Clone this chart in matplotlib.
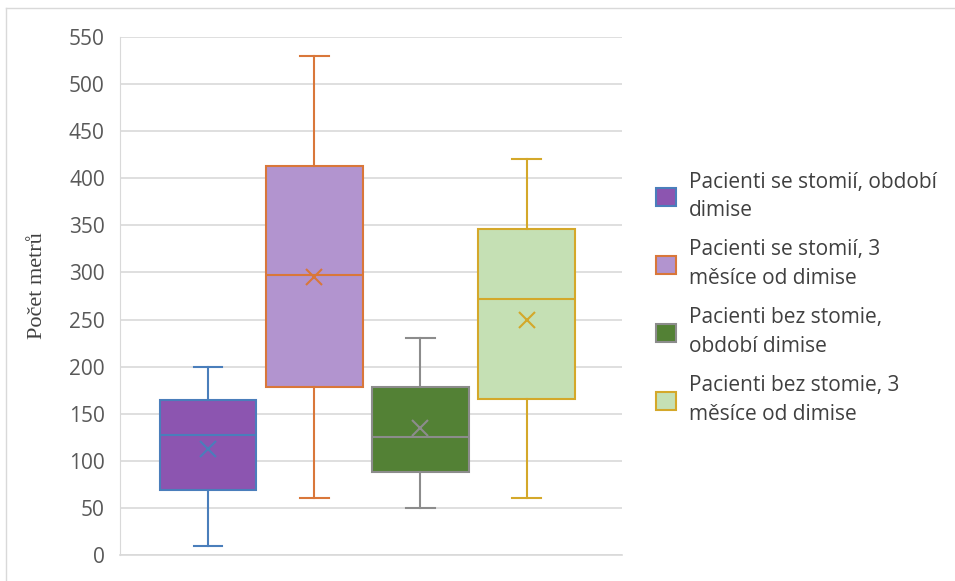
import matplotlib.pyplot as plt
from matplotlib.patches import Patch
from matplotlib.lines import Line2D

labels = ['Pacienti se stomií, období\ndimise',
          'Pacienti se stomií, 3\nměsíce od dimise',
          'Pacienti bez stomie,\nobdobí dimise',
          'Pacienti bez stomie, 3\nměsíce od dimise']
whislo = [10, 60, 50, 60]
q1 = [69, 178, 88, 166]
med = [127, 297, 125, 272]
q3 = [165, 413, 178, 346]
whishi = [200, 530, 230, 420]
means = [113, 295, 135, 250]

fills = ['#8C55B0', '#B294CF', '#538135', '#C5E0B4']
edges = ['#4A7EBB', '#D9773A', '#8C8C8C', '#D4A82A']

fig = plt.figure(figsize=(9.55, 5.81), dpi=100)
ax = fig.add_axes([0.1257, 0.0448, 0.5258, 0.8915])

for i in range(len(labels)):
    st = dict(whislo=whislo[i], q1=q1[i], med=med[i], q3=q3[i],
              whishi=whishi[i], mean=means[i], fliers=[])
    c = edges[i]
    ax.bxp([st], positions=[i], widths=0.91, capwidths=0.27,
           patch_artist=True, showmeans=True, zorder=3,
           boxprops=dict(facecolor=fills[i], edgecolor=c, linewidth=1.5),
           medianprops=dict(color=c, linewidth=1.5),
           whiskerprops=dict(color=c, linewidth=1.5),
           capprops=dict(color=c, linewidth=1.5),
           meanprops=dict(marker='x', markeredgecolor=c, markersize=11,
                          markeredgewidth=1.5))

ax.set_xlim(-0.83, 3.9)
ax.set_ylim(0, 550)
ax.set_yticks(range(0, 551, 50))
ax.set_xticks([])
ax.yaxis.grid(True, color='#D9D9D9', linewidth=1.2)
ax.set_axisbelow(True)
for s in ['top', 'right']:
    ax.spines[s].set_visible(False)
ax.spines['left'].set_color('#D9D9D9')
ax.spines['bottom'].set_color('#D9D9D9')
ax.spines['bottom'].set_linewidth(1.2)
ax.tick_params(axis='y', length=0, pad=11, labelsize=15, labelcolor='#595959')
for t in ax.get_yticklabels():
    t.set_fontfamily('Open Sans')
ax.set_ylabel('Počet metrů', fontfamily='Liberation Serif', fontsize=16,
              color='#404040', labelpad=16, y=0.52)

handles = [Patch(facecolor=fills[i], edgecolor=edges[i], linewidth=1.5)
           for i in range(len(labels))]
leg = fig.legend(handles, labels, loc='center left', bbox_to_anchor=(0.6675, 0.487),
                 frameon=False, prop={'family': 'Open Sans', 'size': 15},
                 labelcolor='#404040', handlelength=0.95, handleheight=0.95,
                 handletextpad=0.6, labelspacing=0.9)
for t in leg.get_texts():
    t.set_linespacing(1.45)

# light chart border along top and left edge
x0, y0 = 6 / 955, 1 - 8 / 581
fig.lines.append(Line2D([x0, 1], [y0, y0], transform=fig.transFigure,
                        color='#D9D9D9', linewidth=1))
fig.lines.append(Line2D([x0, x0], [0, y0], transform=fig.transFigure,
                        color='#D9D9D9', linewidth=1))

fig.savefig('out.png', dpi=100)
